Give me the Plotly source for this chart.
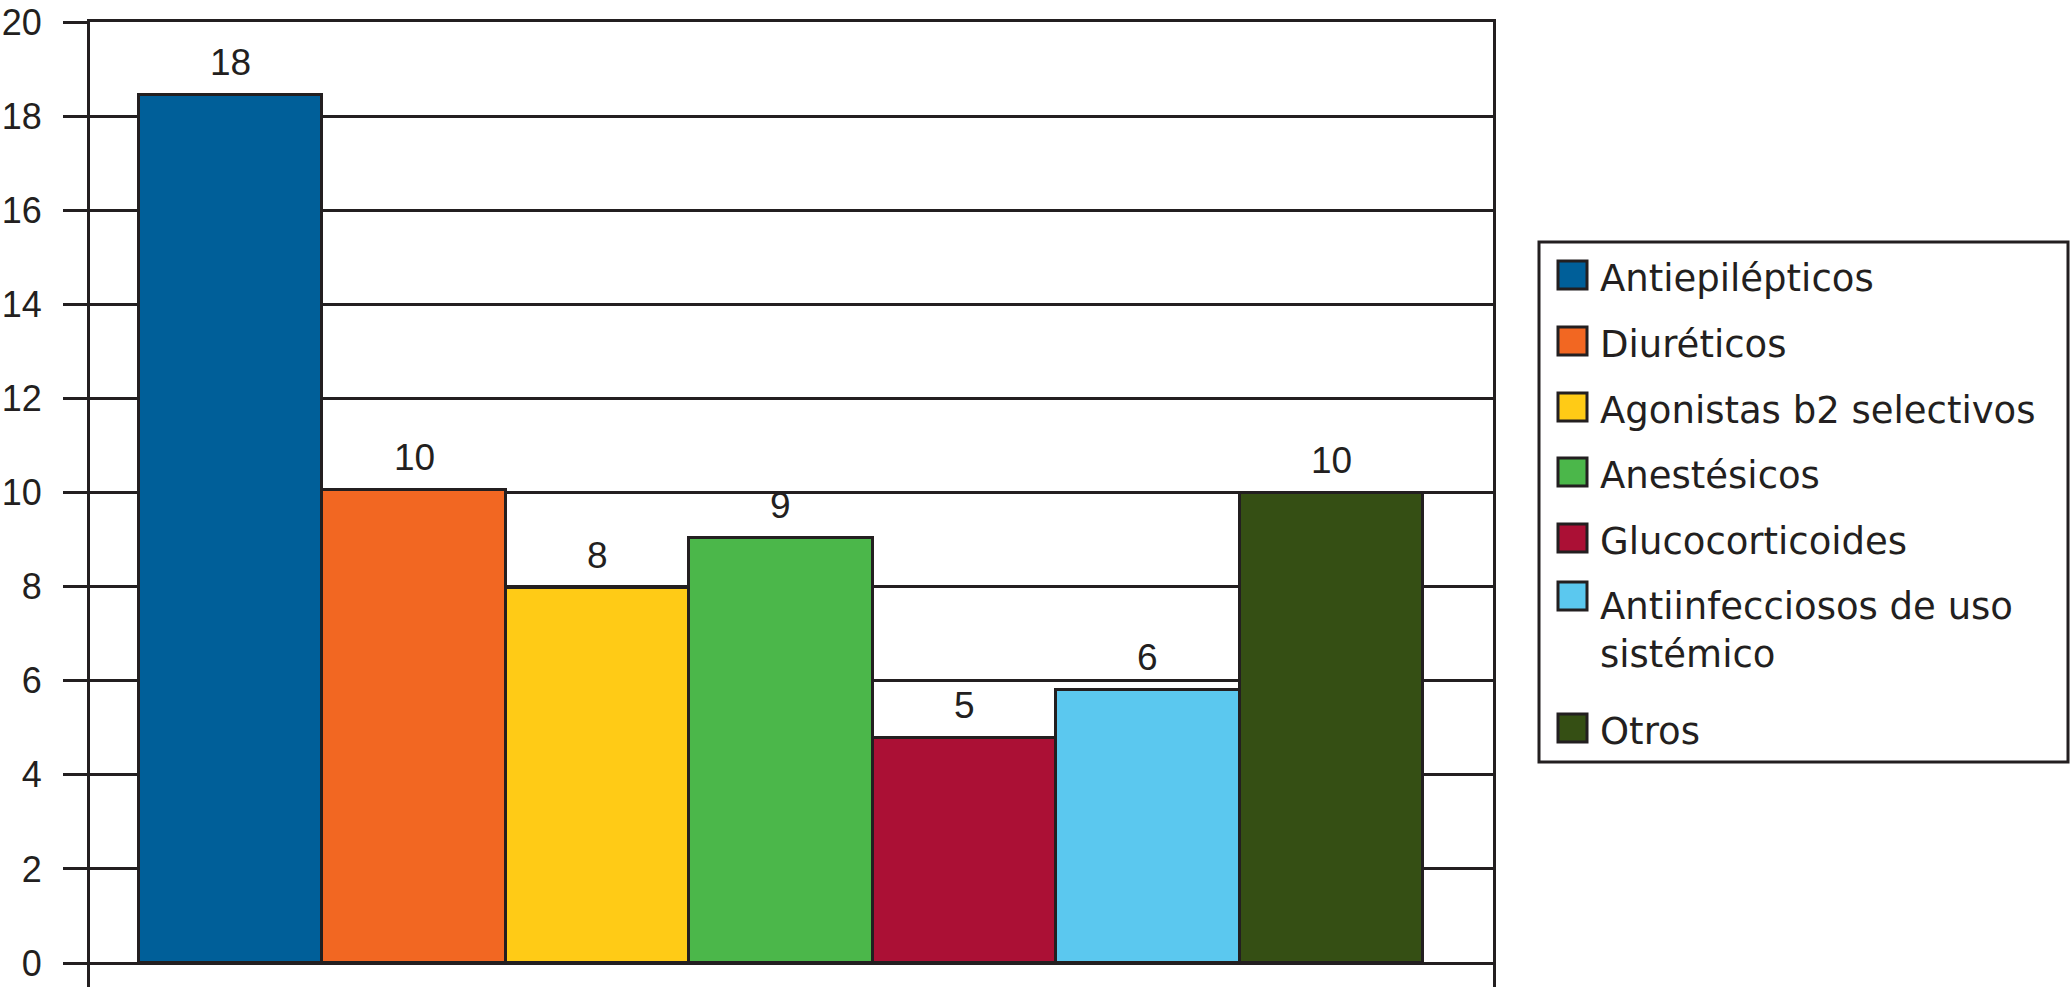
import plotly.graph_objects as go

# Datos
categorias = ["Antiepilépticos", "Diuréticos", "Agonistas b2 selectivos", "Anestésicos",
              "Glucocorticoides", "Antiinfecciosos de uso<br>sistémico", "Otros"]
valores = [18.45, 10.06, 7.98, 9.04, 4.78, 5.81, 10.0]
etiquetas = ["18", "10", "8", "9", "5", "6", "10"]
colores = ["#005f99", "#f26722", "#ffcb16", "#4bb74a", "#ab1035", "#5bc8ef", "#354f14"]

W, H = 2071, 996
L, R, T, B = 90, 1493, 22, 987   # plot area in pixels
INK = "#231f20"
FONT = "Liberation Sans, Arial, sans-serif"
FONT_LEG = "DejaVu Sans, sans-serif"


def px_x(px):
    return (px - L) / (R - L)


def px_y(py):
    return (B - py) / (B - T)


fig = go.Figure()
for i, (cat, val, col) in enumerate(zip(categorias, valores, colores)):
    fig.add_trace(go.Bar(
        x=[i], y=[val], width=1, name=cat,
        marker=dict(color=col, line=dict(color=INK, width=3)),
        showlegend=False,
    ))
    fig.add_annotation(x=i, y=val, text=etiquetas[i], showarrow=False,
                       yanchor="bottom", yshift=10,
                       font=dict(family=FONT, size=37, color=INK))

# legend drawn by hand (bar legend icons in plotly are fixed at 12px)
fig.add_shape(type="rect", xref="paper", yref="paper",
              x0=px_x(1539), x1=px_x(2068), y0=px_y(242), y1=px_y(762),
              line=dict(color=INK, width=3), fillcolor="white")
centros = [275, 341, 407, 472, 538, 596, 728]
for cat, col, cy in zip(categorias, colores, centros):
    fig.add_shape(type="rect", xref="paper", yref="paper",
                  x0=px_x(1558), x1=px_x(1587), y0=px_y(cy - 14), y1=px_y(cy + 14),
                  line=dict(color=INK, width=3), fillcolor=col)
    if "<br>" in cat:
        fig.add_annotation(xref="paper", yref="paper", x=px_x(1598), y=px_y(cy - 13),
                           text=cat, showarrow=False, xanchor="left", yanchor="top",
                           align="left", font=dict(family=FONT_LEG, size=37, color=INK))
    else:
        fig.add_annotation(xref="paper", yref="paper", x=px_x(1598), y=px_y(cy + 3),
                           text=cat, showarrow=False, xanchor="left", yanchor="middle",
                           font=dict(family=FONT_LEG, size=37, color=INK))

fig.update_layout(
    width=W, height=H,
    margin=dict(l=L, r=W - R, t=T, b=H - B, autoexpand=False),
    paper_bgcolor="white", plot_bgcolor="white",
    bargap=0, showlegend=False,
    font=dict(family=FONT, size=37, color=INK),
)
fig.update_xaxes(range=[-0.767, 6.882], side="top", showline=True, linecolor=INK, linewidth=3,
                 showticklabels=False, ticks="", showgrid=False, zeroline=False)
fig.update_yaxes(range=[-0.51, 20], dtick=2, tick0=0, ticks="outside", ticklen=24, tickwidth=3,
                 tickcolor=INK, showline=True, mirror=True, linecolor=INK, linewidth=3,
                 showgrid=True, gridcolor=INK, gridwidth=3, zeroline=False,
                 ticklabelstandoff=14, tickfont=dict(family=FONT, size=36, color=INK))

fig.write_html("out.html", config={"displayModeBar": False},
               post_script="document.body.style.margin='0';")
